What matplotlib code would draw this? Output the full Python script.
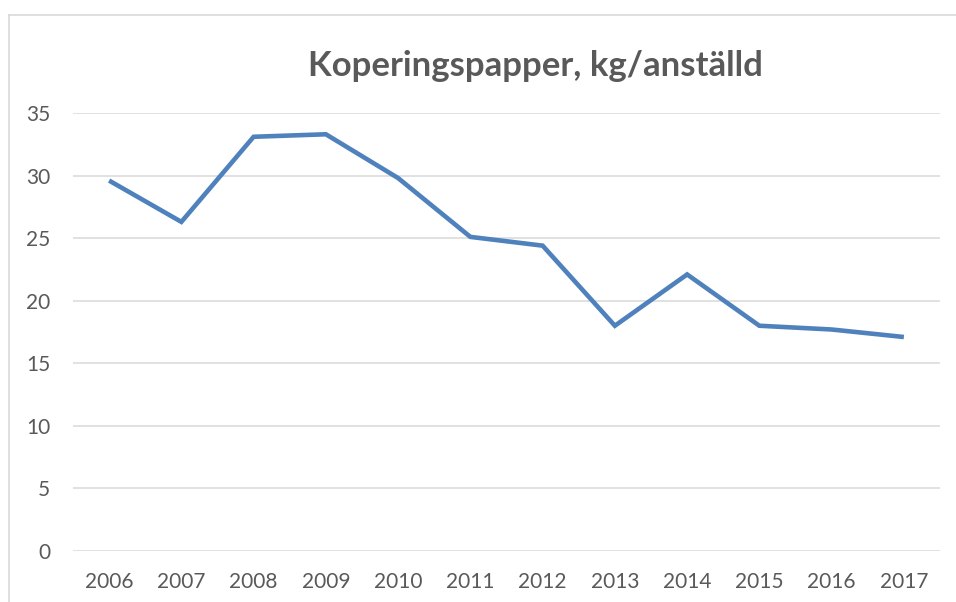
import matplotlib
matplotlib.use("Agg")
import matplotlib.pyplot as plt
from matplotlib.lines import Line2D

years = ["2006", "2007", "2008", "2009", "2010", "2011", "2012", "2013", "2014", "2015", "2016", "2017"]
values = [29.6, 26.3, 33.1, 33.3, 29.8, 25.1, 24.4, 18.0, 22.1, 18.0, 17.7, 17.1]
yticks = [0, 5, 10, 15, 20, 25, 30, 35]
title = "Koperingspapper, kg/anställd"

plt.rcParams['font.family'] = ['Lato', 'DejaVu Sans']
W, H = 956, 602
fig = plt.figure(figsize=(W / 100, H / 100), dpi=100)
fig.patch.set_facecolor("white")

ax = fig.add_axes([73 / W, 1 - 551 / H, (940 - 73) / W, (551 - 113) / H])
x = list(range(len(years)))
ax.plot(x, values, color="#4F81BD", linewidth=3.3, solid_joinstyle="miter", solid_capstyle="butt", zorder=3)
ax.set_xlim(-0.5, len(years) - 0.5)
ax.set_ylim(0, 35)
ax.set_yticks(yticks)
ax.set_yticklabels([str(t) for t in yticks])
ax.set_xticks(x)
ax.set_xticklabels(years)
for s in ax.spines.values():
    s.set_visible(False)
ax.grid(axis="y", color="#D9D9D9", linewidth=1.1, zorder=1)
ax.tick_params(axis="both", length=0, labelsize=15, labelcolor="#595959")
ax.tick_params(axis="y", pad=16.5)
ax.tick_params(axis="x", pad=15)

fig.text(535 / W, 1 - 66 / H, title, ha="center", va="center", fontsize=25,
         fontweight="bold", color="#595959")

# chart area border
fig.add_artist(Line2D([9 / W, 1], [1 - 14.5 / H, 1 - 14.5 / H], color="#D9D9D9", linewidth=1.2))
fig.add_artist(Line2D([9 / W, 9 / W], [0, 1 - 14.5 / H], color="#D9D9D9", linewidth=1.2))

fig.savefig("out.png", dpi=100, facecolor="white")
